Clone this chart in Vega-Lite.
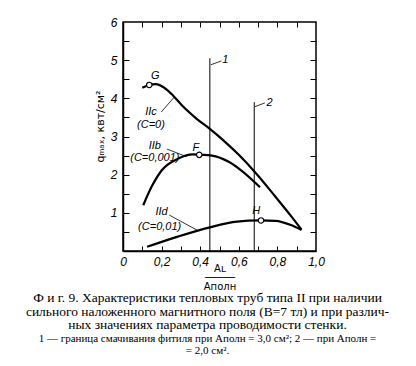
{
  "$schema": "https://vega.github.io/schema/vega-lite/v6.json",
  "width": 193,
  "height": 229,
  "autosize": "none",
  "padding": {"left": 123, "top": 22, "right": 100, "bottom": 115},
  "background": "white",
  "config": {
    "view": {"stroke": "black", "strokeWidth": 1.5},
    "axis": {"grid": false, "domainColor": "black", "domainWidth": 1.5, "tickColor": "black", "tickWidth": 1, "labelColor": "black", "titleColor": "black", "labelFont": "Liberation Sans", "labelFontStyle": "italic", "labelFontSize": 12, "labelOverlap": false, "labelSeparation": 0}
  },
  "title": {
    "text": ["Ф и г. 9. Характеристики тепловых труб типа II при наличии", "сильного наложенного магнитного поля (B=7 тл) и при различ-", "ных значениях параметра проводимости стенки."],
    "subtitle": ["1 — граница смачивания фитиля при Aполн = 3,0 см²;  2 — при Aполн =", "= 2,0 см²."],
    "orient": "bottom",
    "anchor": "middle",
    "frame": "group",
    "dx": -12,
    "offset": 0,
    "font": "Liberation Serif",
    "fontSize": 13.5,
    "fontWeight": "normal",
    "lineHeight": 13.5,
    "color": "black",
    "subtitleFont": "Liberation Serif",
    "subtitleFontSize": 11,
    "subtitleLineHeight": 12,
    "subtitleColor": "black",
    "subtitlePadding": 1
  },
  "datasets": {
    "curves": [
      {"s": "IIc", "x": 0.10, "y": 4.28}, {"s": "IIc", "x": 0.136, "y": 4.35}, {"s": "IIc", "x": 0.17, "y": 4.37}, {"s": "IIc", "x": 0.21, "y": 4.29}, {"s": "IIc", "x": 0.26, "y": 4.07}, {"s": "IIc", "x": 0.31, "y": 3.79}, {"s": "IIc", "x": 0.38, "y": 3.47}, {"s": "IIc", "x": 0.45, "y": 3.20}, {"s": "IIc", "x": 0.52, "y": 2.90}, {"s": "IIc", "x": 0.60, "y": 2.52}, {"s": "IIc", "x": 0.69, "y": 2.03}, {"s": "IIc", "x": 0.79, "y": 1.42}, {"s": "IIc", "x": 0.87, "y": 0.92}, {"s": "IIc", "x": 0.925, "y": 0.56},
      {"s": "IIb", "x": 0.105, "y": 1.20}, {"s": "IIb", "x": 0.15, "y": 1.70}, {"s": "IIb", "x": 0.20, "y": 2.11}, {"s": "IIb", "x": 0.29, "y": 2.43}, {"s": "IIb", "x": 0.36, "y": 2.53}, {"s": "IIb", "x": 0.40, "y": 2.52}, {"s": "IIb", "x": 0.46, "y": 2.50}, {"s": "IIb", "x": 0.55, "y": 2.33}, {"s": "IIb", "x": 0.62, "y": 2.08}, {"s": "IIb", "x": 0.71, "y": 1.67},
      {"s": "IId", "x": 0.125, "y": 0.11}, {"s": "IId", "x": 0.28, "y": 0.37}, {"s": "IId", "x": 0.45, "y": 0.62}, {"s": "IId", "x": 0.59, "y": 0.77}, {"s": "IId", "x": 0.71, "y": 0.80}, {"s": "IId", "x": 0.79, "y": 0.79}, {"s": "IId", "x": 0.87, "y": 0.68}, {"s": "IId", "x": 0.925, "y": 0.55}
    ],
    "points": [
      {"p": "G", "x": 0.136, "y": 4.35},
      {"p": "F", "x": 0.395, "y": 2.52},
      {"p": "H", "x": 0.715, "y": 0.80}
    ],
    "vlines": [
      {"n": "1", "x": 0.45, "y": 0, "y2": 5.05},
      {"n": "2", "x": 0.68, "y": 0, "y2": 3.9}
    ],
    "leaders": [
      {"k": "c", "o": 0, "x": 0.198, "y": 3.64}, {"k": "c", "o": 1, "x": 0.267, "y": 4.04},
      {"k": "b", "o": 0, "x": 0.228, "y": 2.67}, {"k": "b", "o": 1, "x": 0.33, "y": 2.47},
      {"k": "d", "o": 0, "x": 0.24, "y": 0.94}, {"k": "d", "o": 1, "x": 0.39, "y": 0.53},
      {"k": "1", "o": 0, "x": 0.455, "y": 4.88}, {"k": "1", "o": 1, "x": 0.51, "y": 4.98},
      {"k": "2", "o": 0, "x": 0.683, "y": 3.78}, {"k": "2", "o": 1, "x": 0.735, "y": 3.88}
    ],
    "labels": [
      {"t": "G", "x": 0.167, "y": 4.58},
      {"t": "F", "x": 0.377, "y": 2.71},
      {"t": "H", "x": 0.69, "y": 1.04},
      {"t": "IIc", "x": 0.145, "y": 3.63},
      {"t": "(C=0)", "x": 0.145, "y": 3.30},
      {"t": "IIb", "x": 0.165, "y": 2.76},
      {"t": "(C=0,001)", "x": 0.165, "y": 2.43},
      {"t": "IId", "x": 0.20, "y": 1.02},
      {"t": "(C=0,01)", "x": 0.19, "y": 0.62},
      {"t": "1", "x": 0.53, "y": 5.0},
      {"t": "2", "x": 0.76, "y": 3.88}
    ]
  },
  "layer": [
    {
      "layer": [
        {
          "data": {"name": "curves"},
          "mark": {"type": "line", "interpolate": "monotone", "color": "black", "strokeWidth": 2.2},
          "encoding": {
            "x": {"field": "x", "type": "quantitative", "scale": {"domain": [0, 1], "nice": false, "zero": false},
              "axis": {"orient": "bottom", "values": [0, 0.4, 0.8], "ticks": false, "labelPadding": 5, "labelOverlap": false, "labelBound": false, "labelFlush": false,
                "labelExpr": "datum.value == 0 ? '0' : replace(format(datum.value, '.1f'), '.', ',')",
                "title": ["Aʟ", "─────", "Aполн"], "titleFont": "DejaVu Sans", "titleFontSize": 10, "titleFontWeight": "normal", "titleLineHeight": 9, "titlePadding": -4}},
            "y": {"field": "y", "type": "quantitative", "scale": {"domain": [0, 6], "nice": false, "zero": false},
              "axis": {"orient": "left", "values": [1, 2, 3, 4, 5, 6], "ticks": false, "labelPadding": 6, "labelOverlap": false,
                "labelExpr": "format(datum.value, 'd')",
                "title": "qₘₐₓ, квт/см²", "titleFont": "DejaVu Sans", "titleFontSize": 11, "titleFontWeight": "normal", "titlePadding": 5, "titleY": 104}},
            "detail": {"field": "s"}
          }
        },
        {
          "data": {"name": "vlines"},
          "mark": {"type": "rule", "color": "black", "strokeWidth": 1},
          "encoding": {
            "x": {"field": "x", "type": "quantitative"},
            "y": {"field": "y", "type": "quantitative"},
            "y2": {"field": "y2"}
          }
        },
        {
          "data": {"name": "leaders"},
          "mark": {"type": "line", "color": "black", "strokeWidth": 0.8},
          "encoding": {
            "x": {"field": "x", "type": "quantitative"},
            "y": {"field": "y", "type": "quantitative"},
            "detail": {"field": "k"},
            "order": {"field": "o"}
          }
        },
        {
          "data": {"name": "points"},
          "mark": {"type": "point", "shape": "circle", "filled": true, "fill": "white", "stroke": "black", "strokeWidth": 1.2, "size": 30, "opacity": 1},
          "encoding": {
            "x": {"field": "x", "type": "quantitative"},
            "y": {"field": "y", "type": "quantitative"}
          }
        },
        {
          "data": {"name": "labels"},
          "mark": {"type": "text", "font": "Liberation Sans", "fontStyle": "italic", "fontSize": 11, "color": "black"},
          "encoding": {
            "x": {"field": "x", "type": "quantitative"},
            "y": {"field": "y", "type": "quantitative"},
            "text": {"field": "t"}
          }
        }
      ]
    },
    {
      "data": {"name": "points"},
      "mark": {"type": "point", "opacity": 0},
      "encoding": {
        "x": {"field": "x", "type": "quantitative",
          "axis": {"orient": "top", "offset": -229, "values": [0.1, 0.2, 0.3, 0.4, 0.5, 0.6, 0.7, 0.8, 0.9], "tickSize": 5, "labels": false, "domain": false, "title": null}},
        "y": {"field": "y", "type": "quantitative",
          "axis": {"orient": "right", "offset": -193, "values": [0.5, 1, 1.5, 2, 2.5, 3, 3.5, 4, 4.5, 5, 5.5], "tickSize": 6, "labels": false, "domain": false, "title": null}}
      }
    },
    {
      "data": {"name": "points"},
      "mark": {"type": "point", "opacity": 0},
      "encoding": {
        "x": {"field": "x", "type": "quantitative",
          "axis": {"orient": "bottom", "offset": -229, "values": [0.1, 0.2, 0.3, 0.4, 0.5, 0.6, 0.7, 0.8, 0.9], "tickSize": 5, "labels": false, "domain": false, "title": null}},
        "y": {"field": "y", "type": "quantitative",
          "axis": {"orient": "left", "offset": -193, "values": [0.5, 1, 1.5, 2, 2.5, 3, 3.5, 4, 4.5, 5, 5.5], "tickSize": 6, "labels": false, "domain": false, "title": null}}
      }
    },
    {
      "data": {"name": "points"},
      "mark": {"type": "point", "opacity": 0},
      "encoding": {
        "x": {"field": "x", "type": "quantitative",
          "axis": {"orient": "bottom", "offset": 0, "values": [0.2, 0.6, 1.0], "ticks": false, "domain": false, "labelPadding": 5, "labelOverlap": false, "labelBound": false, "labelFlush": false,
            "labelExpr": "replace(format(datum.value, '.1f'), '.', ',')", "title": null}}
      }
    }
  ],
  "resolve": {"axis": {"x": "independent", "y": "independent"}}
}
